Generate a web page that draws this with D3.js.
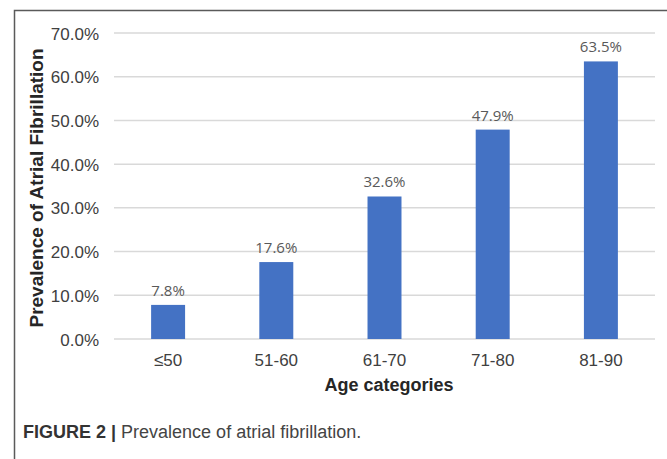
<!DOCTYPE html>
<html>
<head>
<meta charset="utf-8">
<script src="https://cdn.jsdelivr.net/npm/d3@7"></script>
<style>
  html, body { margin: 0; padding: 0; background: #fff; }
  svg { display: block; }
</style>
</head>
<body>
<script>
const categories = ["≤50", "51-60", "61-70", "71-80", "81-90"];
const values = [7.8, 17.6, 32.6, 47.9, 63.5];
const yTicks = [0, 10, 20, 30, 40, 50, 60, 70];
const yTitle = "Prevalence of Atrial Fibrillation";
const xTitle = "Age categories";
const captionBold = "FIGURE 2 |";
const captionText = " Prevalence of atrial fibrillation.";

const W = 667, H = 459;
const svg = d3.select("body").append("svg").attr("width", W).attr("height", H);

// frame
svg.append("path")
  .attr("d", `M14.5,${H} L14.5,10.5 L${W},10.5`)
  .attr("fill", "none").attr("stroke", "#5a5a5a").attr("stroke-width", 1.5);

const x = d3.scaleBand().domain(categories).range([114, 655])
  .paddingInner(0.686).paddingOuter(0.343);
const y = d3.scaleLinear().domain([0, 70]).range([339, 33]);

// gridlines
svg.append("g").selectAll("line").data(yTicks).join("line")
  .attr("x1", 114).attr("x2", 655)
  .attr("y1", d => y(d)).attr("y2", d => y(d))
  .attr("stroke", "#d9d9d9").attr("stroke-width", 1.5);

// y axis labels
const yAxis = d3.axisLeft(y).tickValues(yTicks).tickSize(0).tickPadding(0)
  .tickFormat(d => d.toFixed(1) + "%");
const gy = svg.append("g").attr("transform", "translate(99,0)").call(yAxis);
gy.select(".domain").remove();
gy.selectAll("text").attr("font-family", "Liberation Sans, Arial, sans-serif")
  .attr("font-size", 17).attr("fill", "#404040").attr("dy", "0.36em");

// x axis labels
const xAxis = d3.axisBottom(x).tickSize(0).tickPadding(0);
const gx = svg.append("g").attr("transform", "translate(0,366)").call(xAxis);
gx.select(".domain").remove();
gx.selectAll("text").attr("font-family", "Liberation Sans, Arial, sans-serif")
  .attr("font-size", 17).attr("fill", "#404040").attr("dy", 0);

// bars
svg.append("g").selectAll("rect").data(values).join("rect")
  .attr("x", (d, i) => x(categories[i]))
  .attr("width", x.bandwidth())
  .attr("y", d => y(d))
  .attr("height", d => y(0) - y(d))
  .attr("fill", "#4472c4");

// data labels
svg.append("g").selectAll("text").data(values).join("text")
  .attr("x", (d, i) => x(categories[i]) + x.bandwidth() / 2)
  .attr("y", d => y(d) - 9)
  .attr("text-anchor", "middle")
  .attr("font-family", "Open Sans, sans-serif")
  .attr("font-size", 15).attr("fill", "#595959")
  .text(d => d.toFixed(1) + "%");

// axis titles
svg.append("text")
  .attr("transform", "translate(43,188) rotate(-90)")
  .attr("text-anchor", "middle")
  .attr("font-family", "Liberation Sans, Arial, sans-serif")
  .attr("font-weight", "bold").attr("font-size", 19).attr("fill", "#262626")
  .text(yTitle);

svg.append("text")
  .attr("x", 389).attr("y", 391)
  .attr("text-anchor", "middle")
  .attr("font-family", "Liberation Sans, Arial, sans-serif")
  .attr("font-weight", "bold").attr("font-size", 18).attr("fill", "#262626")
  .text(xTitle);

// caption
const cap = svg.append("text")
  .attr("x", 23).attr("y", 438)
  .attr("font-family", "Liberation Sans, Arial, sans-serif")
  .attr("font-size", 18).attr("fill", "#333");
cap.append("tspan").attr("font-weight", "bold").text(captionBold);
cap.append("tspan").attr("fill", "#444").text(captionText);
</script>
</body>
</html>
